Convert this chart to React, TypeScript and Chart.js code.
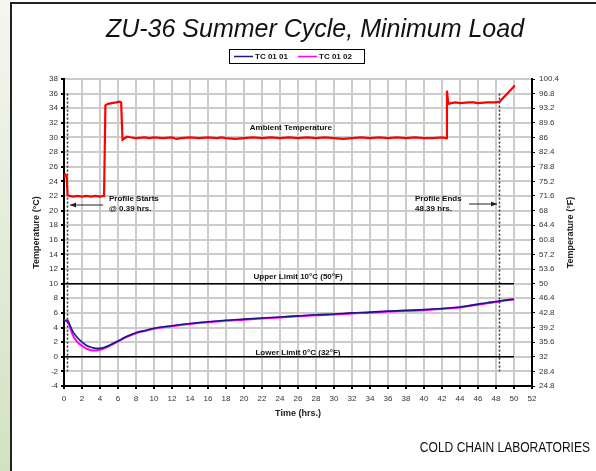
import React, { useEffect, useRef } from 'react';
import { Chart, registerables } from 'chart.js';

Chart.register(...registerables);

// ---------- data ----------
const ambientTimes = [
  0, 0.15, 0.3, 0.4, 0.6, 1, 1.5, 2, 2.5, 3, 3.5, 4, 4.45, 4.6, 4.9, 5.3, 5.8, 6.2, 6.35, 6.5,
  7, 7.5, 8, 9, 9.5, 10, 11, 12, 12.5, 13, 14, 15, 16, 17, 17.5, 18, 19, 20, 21, 22, 23, 24, 25, 26,
  27, 28, 29, 30, 31, 32, 33, 34, 35, 36, 37, 38, 39, 40, 41, 42, 42.45, 42.55, 42.7, 43, 43.5, 44,
  45, 45.5, 46, 47, 47.5, 48, 48.4, 50.1,
];
const ambientTemps = [
  24.5, 24.9, 24.7, 22.1, 22.0, 21.9, 22.0, 21.9, 22.0, 21.9, 22.0, 21.9, 22.0, 34.4, 34.6, 34.7, 34.8, 34.9, 34.8, 29.7,
  30.1, 30.0, 29.9, 30.0, 29.9, 30.0, 29.9, 30.0, 29.8, 29.9, 30.0, 29.9, 30.0, 29.9, 30.0, 29.9, 29.8, 29.9, 30.0, 29.9, 30.0, 29.9, 30.0, 29.9,
  30.0, 29.9, 30.0, 29.9, 29.8, 29.9, 30.0, 29.9, 30.0, 29.9, 30.0, 29.9, 30.0, 29.9, 29.9, 30.0, 29.9, 36.4, 34.6, 34.7, 34.8, 34.7,
  34.8, 34.8, 34.7, 34.8, 34.8, 34.8, 34.9, 37.1,
];

const probeTimes = [
  0, 0.39, 0.7, 1, 1.5, 2, 2.5, 3, 3.5, 4, 4.5, 5, 5.5, 6, 7, 8, 9, 10, 12, 14, 16, 18, 20, 22, 24,
  26, 28, 30, 32, 34, 36, 38, 40, 42, 43, 44, 45, 46, 47, 48, 49, 50,
];
const tc0101 = [
  4.9, 4.9, 4.2, 3.4, 2.6, 2.0, 1.55, 1.3, 1.15, 1.15, 1.3, 1.55, 1.85, 2.15, 2.8, 3.3, 3.6, 3.9, 4.25, 4.55, 4.8, 5.0, 5.15, 5.3, 5.45,
  5.6, 5.75, 5.85, 6.0, 6.1, 6.25, 6.35, 6.45, 6.6, 6.7, 6.8, 7.0, 7.2, 7.4, 7.55, 7.75, 7.9,
];
const tc0102 = [
  5.0, 5.0, 3.9, 2.9, 2.0, 1.5, 1.1, 0.9, 0.85, 0.95, 1.15, 1.45, 1.78, 2.1, 2.72, 3.22, 3.53, 3.83, 4.18, 4.48, 4.73, 4.93, 5.08, 5.23, 5.38,
  5.53, 5.68, 5.78, 5.93, 6.03, 6.18, 6.28, 6.38, 6.53, 6.63, 6.73, 6.93, 7.13, 7.33, 7.48, 7.68, 7.83,
];

const celsiusMin = -4;
const celsiusMax = 38;
const celsiusStep = 2;
const fahrenheitTicks = [24.8, 28.4, 32, 35.6, 39.2, 42.8, 46.4, 50, 53.6, 57.2, 60.8, 64.4, 68, 71.6, 75.2, 78.8, 82.4, 86, 89.6, 93.2, 96.8, 100.4];
const timeMin = 0;
const timeMax = 52;
const timeStep = 2;

const limitTimes = [0, 50];
const upperLimit = 10;
const lowerLimit = 0;
const profileStart = 0.39;
const profileEnd = 48.39;
const markerTemps = [36, -2];

const FONT = '"Liberation Sans", Arial, sans-serif';

const pts = (xs: number[], ys: number[]) => xs.map((x, i) => ({ x, y: ys[i] }));

function arrow(ctx: CanvasRenderingContext2D, x1: number, x2: number, y: number) {
  ctx.beginPath();
  ctx.moveTo(x1, y);
  ctx.lineTo(x2, y);
  ctx.strokeStyle = '#222';
  ctx.lineWidth = 1;
  ctx.stroke();
  const d = x2 > x1 ? -1 : 1;
  ctx.beginPath();
  ctx.moveTo(x2, y);
  ctx.lineTo(x2 + d * 6, y - 2.5);
  ctx.lineTo(x2 + d * 6, y + 2.5);
  ctx.closePath();
  ctx.fillStyle = '#222';
  ctx.fill();
}

const decor = {
  id: 'decor',
  beforeDraw(chart: any) {
    const { ctx, width, height } = chart;
    ctx.save();
    ctx.fillStyle = '#ffffff';
    ctx.fillRect(0, 0, width, height);
    const g = ctx.createLinearGradient(0, 0, 0, height);
    g.addColorStop(0, '#f5f6f1');
    g.addColorStop(1, '#d3e2c2');
    ctx.fillStyle = g;
    ctx.fillRect(0, 0, 10, height);
    ctx.fillStyle = '#222';
    ctx.fillRect(10, 2, 2, height - 2);
    ctx.fillRect(10, 2, width - 10, 2);
    ctx.restore();
  },
  afterDraw(chart: any) {
    const { ctx } = chart;
    const xs = chart.scales.x;
    const ys = chart.scales.y;
    const area = chart.chartArea;
    ctx.save();
    ctx.fillStyle = '#111';
    ctx.textBaseline = 'middle';
    // title
    ctx.font = `italic 25px ${FONT}`;
    ctx.textAlign = 'center';
    ctx.fillText('ZU-36 Summer Cycle, Minimum Load', 315, 30);

    // legend
    ctx.strokeStyle = '#000';
    ctx.lineWidth = 1;
    ctx.strokeRect(229.5, 49.5, 135, 14);
    ctx.font = `bold 8px ${FONT}`;
    ctx.textAlign = 'left';
    ctx.lineWidth = 1.5;
    ctx.strokeStyle = '#1a1a80';
    ctx.beginPath(); ctx.moveTo(234, 56.5); ctx.lineTo(253, 56.5); ctx.stroke();
    ctx.fillText('TC 01 01', 255, 57);
    ctx.strokeStyle = '#ff00ff';
    ctx.beginPath(); ctx.moveTo(298, 56.5); ctx.lineTo(317, 56.5); ctx.stroke();
    ctx.fillText('TC 01 02', 319, 57);

    // annotations
    ctx.font = `bold 8px ${FONT}`;
    ctx.textAlign = 'center';
    ctx.fillText('Ambient Temperature', xs.getPixelForValue(25.2), ys.getPixelForValue(31.3));
    ctx.fillText('Upper Limit 10\u00B0C (50\u00B0F)', xs.getPixelForValue(26), ys.getPixelForValue(11.0));
    ctx.fillText('Lower Limit 0\u00B0C (32\u00B0F)', xs.getPixelForValue(26), ys.getPixelForValue(0.5));
    ctx.textAlign = 'left';
    ctx.fillText('Profile Starts', 109, 199);
    ctx.fillText('@ 0.39 hrs.', 109, 208.5);
    ctx.fillText('Profile Ends', 415, 199);
    ctx.fillText('48.39 hrs.', 415, 208.5);
    arrow(ctx, 103, 70, 205);
    arrow(ctx, 469, 497, 204);

    // axis titles
    ctx.font = `bold 9px ${FONT}`;
    ctx.textAlign = 'center';
    ctx.fillText('Time (hrs.)', (area.left + area.right) / 2, 414);
    const midY = (area.top + area.bottom) / 2;
    ctx.save();
    ctx.translate(37, midY);
    ctx.rotate(-Math.PI / 2);
    ctx.fillText('Temperature (\u00B0C)', 0, 0);
    ctx.restore();
    ctx.save();
    ctx.translate(571, midY);
    ctx.rotate(-Math.PI / 2);
    ctx.fillText('Temperature (\u00B0F)', 0, 0);
    ctx.restore();

    // footer (condensed)
    ctx.save();
    ctx.font = `14px ${FONT}`;
    ctx.textAlign = 'right';
    ctx.fillStyle = '#111';
    ctx.translate(590, 448);
    ctx.scale(0.86, 1);
    ctx.fillText('COLD CHAIN LABORATORIES', 0, 0);
    ctx.restore();
    ctx.restore();
  },
};

export default function App() {
  const ref = useRef<HTMLCanvasElement>(null);
  useEffect(() => {
    document.body.style.margin = '0';
    if (!ref.current) return;
    const tickFont = { family: FONT, size: 8 };
    const chart = new Chart(ref.current, {
      type: 'line',
      data: {
        datasets: [
          {
            label: 'Ambient Temperature',
            data: pts(ambientTimes, ambientTemps),
            borderColor: '#ff0000',
            borderWidth: 2.2,
            pointRadius: 0,
            tension: 0,
          },
          {
            label: 'Upper Limit',
            data: pts(limitTimes, limitTimes.map(() => upperLimit)),
            borderColor: '#000',
            borderWidth: 1.5,
            pointRadius: 0,
          },
          {
            label: 'Lower Limit',
            data: pts(limitTimes, limitTimes.map(() => lowerLimit)),
            borderColor: '#000',
            borderWidth: 1.5,
            pointRadius: 0,
          },
          {
            label: 'Profile Starts',
            data: markerTemps.map((y) => ({ x: profileStart, y })),
            borderColor: '#333',
            borderWidth: 1.5,
            borderDash: [2, 2],
            pointRadius: 0,
          },
          {
            label: 'Profile Ends',
            data: markerTemps.map((y) => ({ x: profileEnd, y })),
            borderColor: '#333',
            borderWidth: 1.5,
            borderDash: [2, 2],
            pointRadius: 0,
          },
          {
            label: 'TC 01 01',
            data: pts(probeTimes, tc0101),
            borderColor: '#1a1a80',
            borderWidth: 1.6,
            pointRadius: 0,
            cubicInterpolationMode: 'monotone',
          },
          {
            label: 'TC 01 02',
            data: pts(probeTimes, tc0102),
            borderColor: '#ff00ff',
            borderWidth: 2,
            pointRadius: 0,
            cubicInterpolationMode: 'monotone',
          },
        ],
      },
      options: {
        responsive: false,
        animation: false,
        events: [],
        layout: { padding: { left: 10, right: 10, top: 79, bottom: 55 } },
        plugins: { legend: { display: false }, title: { display: false }, tooltip: { enabled: false } },
        scales: {
          x: {
            type: 'linear',
            min: timeMin,
            max: timeMax,
            ticks: { stepSize: timeStep, font: tickFont, color: '#333', padding: 5, maxRotation: 0, autoSkip: false },
            grid: { color: '#cccccc', lineWidth: 2, tickLength: 3, tickColor: '#000' },
            border: { display: true, color: '#000', width: 2 },
            afterFit: (s: any) => { s.height = 30; },
          },
          y: {
            type: 'linear',
            position: 'left',
            min: celsiusMin,
            max: celsiusMax,
            ticks: { stepSize: celsiusStep, font: tickFont, color: '#333', padding: 3, autoSkip: false },
            grid: { color: '#cccccc', lineWidth: 2, tickLength: 3, tickColor: '#000' },
            border: { display: true, color: '#000', width: 2 },
            afterFit: (s: any) => { s.width = 54; },
          },
          y2: {
            type: 'linear',
            position: 'right',
            min: fahrenheitTicks[0],
            max: fahrenheitTicks[fahrenheitTicks.length - 1],
            afterBuildTicks: (s: any) => { s.ticks = fahrenheitTicks.map((v) => ({ value: v })); },
            ticks: { font: tickFont, color: '#333', padding: 4, autoSkip: false, callback: (v: any) => String(v) },
            grid: { drawOnChartArea: false, tickLength: 3, tickColor: '#000' },
            border: { display: true, color: '#000', width: 2 },
            afterFit: (s: any) => { s.width = 54; },
          },
        },
      },
      plugins: [decor],
    } as any);
    return () => chart.destroy();
  }, []);
  return <canvas ref={ref} width={596} height={471} style={{ display: 'block', width: 596, height: 471 }} />;
}
